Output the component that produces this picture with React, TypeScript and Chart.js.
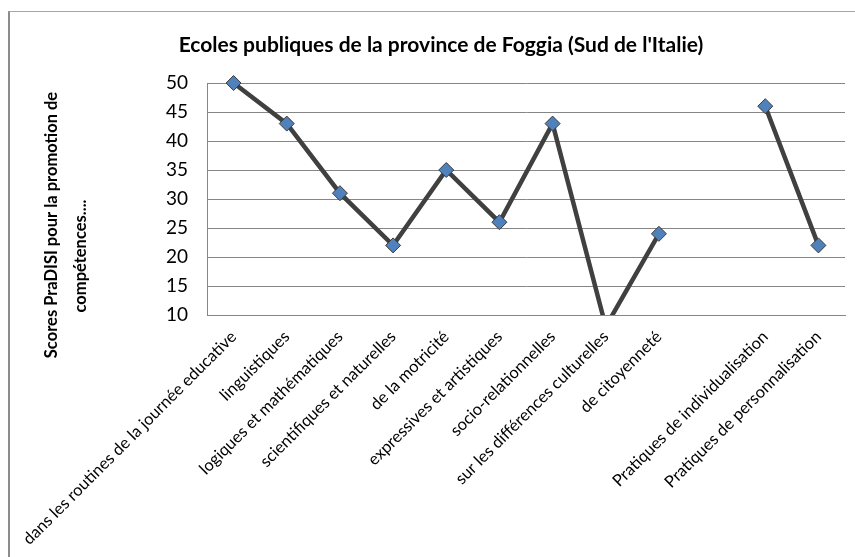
import React, { useEffect, useRef } from 'react';
import { Chart, registerables } from 'chart.js';

Chart.register(...registerables);

const categories = [
  'dans les routines de la journée educative',
  'linguistiques',
  'logiques et mathématiques',
  'scientifiques et naturelles',
  'de la motricité',
  'expressives et artistiques',
  'socio-relationnelles',
  'sur les différences culturelles',
  'de citoyenneté',
  '',
  'Pratiques de individualisation',
  'Pratiques de personnalisation',
];
const scores: (number | null)[] = [50, 43, 31, 22, 35, 26, 43, 8, 24, null, 46, 22];
const yMin = 10;
const yMax = 50;
const yStep = 5;
const titleText = "Ecoles publiques de la province de Foggia (Sud de l'Italie)";
const yTitleLines = ['Scores PraDISI pour la promotion de', 'compétences....'];

const FONT = 'Lato, "Open Sans", sans-serif';

const yTitlePlugin = {
  id: 'yTitleRotated',
  afterDraw(chart: any) {
    const ctx = chart.ctx;
    ctx.save();
    ctx.fillStyle = '#000';
    ctx.font = `bold 16.5px ${FONT}`;
    ctx.textAlign = 'center';
    ctx.textBaseline = 'middle';
    const pos = [
      [42, 213],
      [71, 244],
    ];
    yTitleLines.forEach((line, i) => {
      ctx.save();
      ctx.translate(pos[i][0], pos[i][1]);
      ctx.rotate(-Math.PI / 2);
      ctx.fillText(line, 0, 0);
      ctx.restore();
    });
    ctx.restore();
  },
};

export default function App() {
  const ref = useRef<HTMLCanvasElement | null>(null);
  useEffect(() => {
    if (!ref.current) return;
    const chart = new Chart(ref.current, {
      type: 'line',
      data: {
        labels: categories,
        datasets: [
          {
            data: scores,
            borderColor: '#404040',
            borderWidth: 4.5,
            pointStyle: 'rectRot',
            pointRadius: 7.5,
            pointHoverRadius: 7.5,
            pointBackgroundColor: '#4F81BD',
            pointBorderColor: '#3a3a3a',
            pointBorderWidth: 1,
            spanGaps: false,
            tension: 0,
            clip: { left: 12, top: 12, right: 12, bottom: 0 } as any,
          },
        ],
      },
      options: {
        animation: false,
        responsive: false,
        devicePixelRatio: 1,
        layout: { padding: { left: 27, right: 27, top: 0, bottom: 0 } },
        plugins: {
          legend: { display: false },
          tooltip: { enabled: false },
          title: {
            display: true,
            text: titleText,
            color: '#000',
            font: { family: FONT, size: 21, weight: 'bold' },
            padding: { top: 21, bottom: 24.8 },
          },
        },
        scales: {
          x: {
            offset: true,
            grid: { display: false },
            border: { display: true, color: '#868686', width: 1 },
            ticks: {
              autoSkip: false,
              minRotation: 45,
              maxRotation: 45,
              color: '#000',
              padding: 4,
              font: { family: FONT, size: 16.5 },
            },
            afterFit(scale: any) {
              scale.height = 242;
            },
          },
          y: {
            min: yMin,
            max: yMax,
            grid: { color: '#868686', lineWidth: 1, drawTicks: false },
            border: { display: true, color: '#868686', width: 1 },
            ticks: {
              stepSize: yStep,
              color: '#000',
              padding: 19,
              font: { family: FONT, size: 19 },
            },
            afterFit(scale: any) {
              scale.width = 170;
            },
          },
        },
      },
      plugins: [yTitlePlugin],
    });
    return () => chart.destroy();
  }, []);

  return (
    <div
      style={{
        position: 'absolute',
        left: 8,
        top: 11,
        width: 847,
        height: 546,
        borderTop: '1px solid #a6a6a6',
        borderLeft: '2px solid #8c8c8c',
        overflow: 'hidden',
        boxSizing: 'border-box',
        background: '#fff',
      }}
    >
      <canvas ref={ref} width={862} height={545} style={{ width: 862, height: 545, display: 'block' }} />
    </div>
  );
}
